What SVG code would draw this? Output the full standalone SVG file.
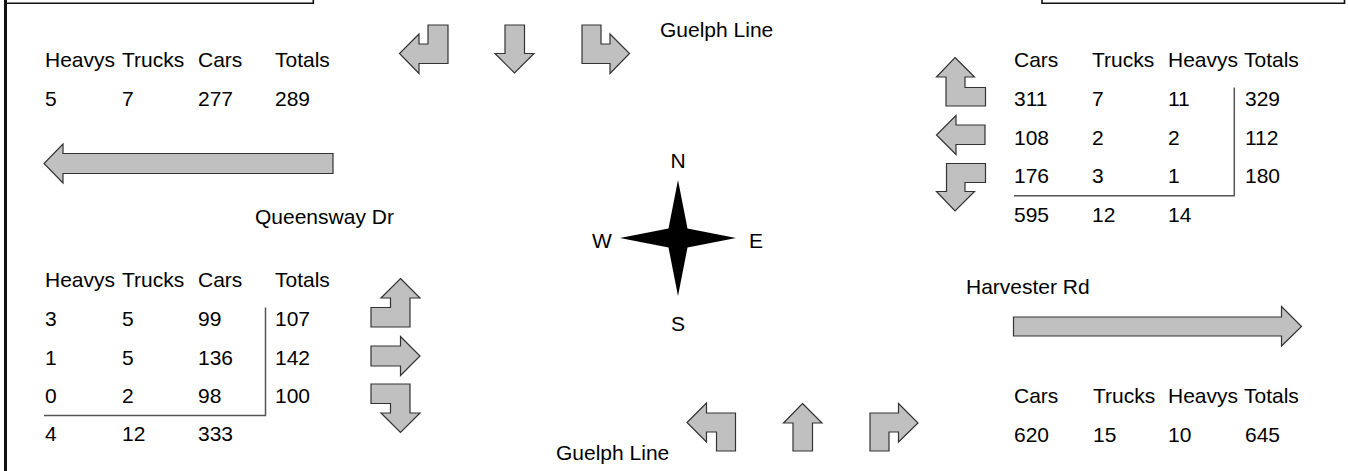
<svg xmlns="http://www.w3.org/2000/svg" width="1348" height="471" viewBox="0 0 1348 471">
<style>
text{font-family:"Liberation Sans",Arial,sans-serif;font-size:21px;fill:#000}
.arr{fill:#c0c0c0;stroke:#333;stroke-width:1.2;stroke-linejoin:miter}
.rule{fill:none;stroke:#555;stroke-width:1.5}
.frame{fill:none;stroke:#111;stroke-width:1.6}
</style>
<rect id="left-border" x="4" y="0" width="3" height="471" fill="#111"/>
<path class="frame" d="M5,3.3 H313.3 V0"/>
<path class="frame" d="M1042,0 V3.3 H1344.5 V0"/>

<g id="label-guelph-top"><text x="660" y="37">Guelph Line</text></g>
<g id="label-queensway"><text x="255" y="224">Queensway Dr</text></g>
<g id="label-harvester"><text x="966" y="294">Harvester Rd</text></g>
<g id="label-guelph-bottom"><text x="556" y="460">Guelph Line</text></g>

<g id="compass">
<polygon points="678,180 687.5,228.5 736,238 687.5,247.5 678,296 668.5,247.5 620,238 668.5,228.5" fill="#000"/>
<text x="678" y="168" text-anchor="middle">N</text>
<text x="678" y="331" text-anchor="middle">S</text>
<text x="602" y="248" text-anchor="middle">W</text>
<text x="756" y="248" text-anchor="middle">E</text>
</g>

<g id="arrows-north">
<polygon class="arr" points="428,25 448,25 448,63.5 419,63.5 419,73.5 399.5,53.5 419,34 419,44 428,44"/>
<polygon class="arr" points="505,25 524.5,25 524.5,53.5 534,53.5 514.5,73 495,53.5 505,53.5"/>
<polygon class="arr" points="582,25 601,25 601,44 610,44 610,34 629.5,53.5 610,73.5 610,63.5 582,63.5"/>
</g>

<g id="arrow-queensway">
<polygon class="arr" points="333,153.5 63,153.5 63,144 44,163.5 63,183 63,173.5 333,173.5"/>
</g>

<g id="arrows-east">
<polygon class="arr" points="955,57.5 974.5,77 965,77 965,87.5 985.5,87.5 985.5,106 946,106 946,77 936.5,77"/>
<polygon class="arr" points="985,125 956,125 956,115.5 936.5,135 956,154.5 956,144.5 985,144.5"/>
<polygon class="arr" points="946.5,163.5 985.5,163.5 985.5,182.5 965,182.5 965,191.5 974.5,191.5 955,211 936.5,191.5 946.5,191.5"/>
</g>

<g id="arrows-west">
<polygon class="arr" points="400.5,278.5 420,298 410,298 410,327 371,327 371,307.5 390.5,307.5 390.5,298 381,298"/>
<polygon class="arr" points="371,346 400.5,346 400.5,336.5 420,356 400.5,375.5 400.5,366 371,366"/>
<polygon class="arr" points="371,384 410,384 410,413 420,413 400.5,432.5 381,413 390.5,413 390.5,403.5 371,403.5"/>
</g>

<g id="arrow-harvester">
<polygon class="arr" points="1013.5,317 1281.5,317 1281.5,306.5 1301.5,326.5 1281.5,346 1281.5,336 1013.5,336"/>
</g>

<g id="arrows-south">
<polygon class="arr" points="687,422.5 706.5,403 706.5,413 735.5,413 735.5,451 716.5,451 716.5,432 706.5,432 706.5,442"/>
<polygon class="arr" points="802.5,403.5 822,423 812.5,423 812.5,451 793,451 793,423 783.5,423"/>
<polygon class="arr" points="870,451 870,413 898.5,413 898.5,403.5 918,423 898.5,442 898.5,432 889,432 889,451"/>
</g>

<g id="table-north">
<text x="45" y="67">Heavys</text><text x="122" y="67">Trucks</text><text x="198" y="67">Cars</text><text x="275" y="67">Totals</text>
<text x="45" y="106">5</text><text x="122" y="106">7</text><text x="198" y="106">277</text><text x="275" y="106">289</text>
</g>

<g id="table-east">
<text x="1014" y="67">Cars</text><text x="1092" y="67">Trucks</text><text x="1168" y="67">Heavys</text><text x="1244" y="67">Totals</text>
<text x="1014" y="106">311</text><text x="1092" y="106">7</text><text x="1168" y="106">11</text><text x="1245" y="106">329</text>
<text x="1014" y="144.5">108</text><text x="1092" y="144.5">2</text><text x="1168" y="144.5">2</text><text x="1245" y="144.5">112</text>
<text x="1014" y="183">176</text><text x="1092" y="183">3</text><text x="1168" y="183">1</text><text x="1245" y="183">180</text>
<text x="1014" y="221.5">595</text><text x="1092" y="221.5">12</text><text x="1168" y="221.5">14</text>
<path class="rule" d="M1234.3,87.5 V195.7 H1014"/>
</g>

<g id="table-west">
<text x="45" y="287">Heavys</text><text x="122" y="287">Trucks</text><text x="198" y="287">Cars</text><text x="275" y="287">Totals</text>
<text x="45" y="326">3</text><text x="122" y="326">5</text><text x="198" y="326">99</text><text x="275" y="326">107</text>
<text x="45" y="364.5">1</text><text x="122" y="364.5">5</text><text x="198" y="364.5">136</text><text x="275" y="364.5">142</text>
<text x="45" y="403">0</text><text x="122" y="403">2</text><text x="198" y="403">98</text><text x="275" y="403">100</text>
<text x="45" y="441">4</text><text x="122" y="441">12</text><text x="198" y="441">333</text>
<path class="rule" d="M265.5,307.5 V415.5 H44"/>
</g>

<g id="table-south">
<text x="1014" y="403">Cars</text><text x="1093" y="403">Trucks</text><text x="1168" y="403">Heavys</text><text x="1244" y="403">Totals</text>
<text x="1014" y="442">620</text><text x="1093" y="442">15</text><text x="1168" y="442">10</text><text x="1245" y="442">645</text>
</g>

<g id="connectors"></g>
</svg>
